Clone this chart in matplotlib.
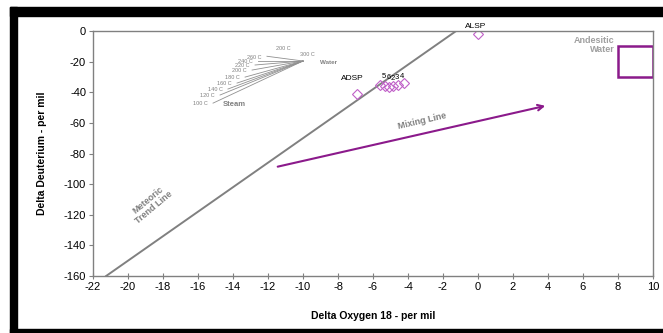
import matplotlib.pyplot as plt
from matplotlib.patches import Rectangle
import numpy as np

plt.rcParams['font.family'] = ['Liberation Sans', 'DejaVu Sans']
plt.rcParams['axes.unicode_minus'] = False

# meteoric water line dD = 8*d18O + 10
met_x = [-21.25, -1.25]
met_y = [8 * v + 10 for v in met_x]

# sample points
samp_x = [0.0, -6.9, -5.6, -5.3, -5.1, -4.85, -4.55, -4.25]
samp_y = [-2.0, -41.0, -35.5, -36.0, -36.6, -36.0, -35.3, -34.0]
samp_lab = ["ALSP", "ADSP", "5", "6", "2", "3", "4", ""]

# steam fractionation fan, converging on water point
water = (-10.0, -19.6)
steam_T = ["100 C", "120 C", "140 C", "160 C", "180 C", "200 C", "220 C", "240 C", "260 C"]
steam_x = [-15.14, -14.74, -14.29, -13.77, -13.31, -12.91, -12.74, -12.57, -12.06]
steam_y = [-47.1, -41.8, -37.9, -34.0, -30.1, -25.5, -22.2, -19.6, -16.5]

mix_start = (-11.6, -89.0)
mix_end = (4.0, -48.5)

andesitic_x = [8, 10]
andesitic_y = [-30, -10]

fig = plt.figure(figsize=(6.63, 3.33), dpi=100)
ax = fig.add_axes([93/663, 1-276/333, 560/663, 245/333])

ax.plot(met_x, met_y, color='#808080', lw=1.4)

for sx, sy, t in zip(steam_x, steam_y, steam_T):
    ax.plot([sx, water[0]], [sy, water[1]], color='#909090', lw=0.6)
    ax.text(sx - 0.3, sy - 0.5, t, fontsize=4, color='#808080', ha='right', va='center')
ax.text(-11.1, -12.5, "200 C", fontsize=4, color='#808080', ha='center')
ax.text(-10.2, -16.5, "300 C", fontsize=4, color='#808080', ha='left')
ax.text(-14.6, -47.8, "Steam", fontsize=5.5, color='#808080', fontweight='bold', va='center')
ax.text(-9.0, -20.5, "Water", fontsize=4.5, color='#808080', fontweight='bold', va='center')

ax.plot(samp_x, samp_y, ls='none', marker='D', ms=5.5, mfc='none', mec='#C060C8', mew=0.8)
ax.text(-0.15, 0.8, "ALSP", fontsize=6, ha='center', va='bottom', clip_on=False)
ax.text(-7.2, -33.5, "ADSP", fontsize=6, ha='center', va='bottom')
for sx, sy, t in zip(samp_x[2:], samp_y[2:], samp_lab[2:]):
    ax.text(sx + 0.2, sy + 3.5, t, fontsize=5.5, ha='center', va='bottom')

ax.annotate("", xy=mix_end, xytext=mix_start,
            arrowprops=dict(arrowstyle='->', color='#8B1A8B', lw=1.5, mutation_scale=10))
ax.text(-3.2, -58.5, "Mixing Line", fontsize=6.5, color='#808080', fontweight='bold',
        rotation=13, ha='center', va='center')
ax.text(-18.7, -113, "Meteoric\nTrend Line", fontsize=6.5, color='#808080', fontweight='bold',
        rotation=40, ha='center', va='center', linespacing=1.0)

ax.add_patch(Rectangle((andesitic_x[0], andesitic_y[0]), andesitic_x[1] - andesitic_x[0],
                       andesitic_y[1] - andesitic_y[0], fill=False, ec='#8B1A8B', lw=1.8))
ax.text(7.8, -3.5, "Andesitic\nWater", fontsize=6.5, color='#A0A0A0', fontweight='bold',
        ha='right', va='top', linespacing=1.0)

ax.set_xlim(-22, 10)
ax.set_ylim(-160, 0)
ax.set_xticks(np.arange(-22, 11, 2))
ax.set_yticks(np.arange(-160, 1, 20))
ax.tick_params(axis='x', direction='inout', length=4, color='#808080', labelsize=8, pad=2)
ax.tick_params(axis='y', direction='out', length=3, color='#808080', labelsize=8, pad=2)
for s in ax.spines.values():
    s.set_color('#808080')
    s.set_linewidth(1.0)

ax.set_xlabel("Delta Oxygen 18 - per mil", fontsize=7.5, fontweight='bold', labelpad=14)
ax.set_ylabel("Delta Deuterium - per mil", fontsize=7.5, fontweight='bold', labelpad=12)

# black frame around the picture
fig.patches.append(Rectangle((10/663, 1-16/333), 653/663, 9/333, color='black',
                             transform=fig.transFigure, figure=fig))
fig.patches.append(Rectangle((10/663, 0), 7/663, 1-7/333, color='black',
                             transform=fig.transFigure, figure=fig))
fig.patches.append(Rectangle((10/663, 0), 653/663, 4/333, color='black',
                             transform=fig.transFigure, figure=fig))

fig.savefig("out.png", dpi=100)
